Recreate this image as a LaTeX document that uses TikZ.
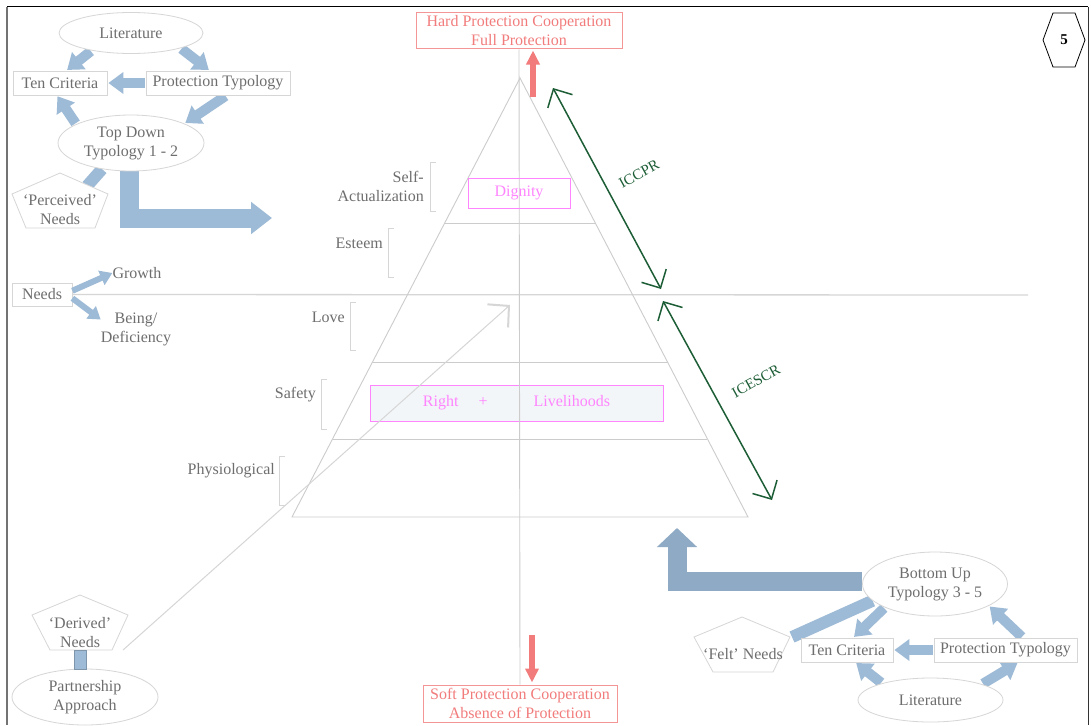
\documentclass[tikz,border=0pt]{standalone}
\usepackage{fontspec}
\setmainfont{Liberation Serif}
\usetikzlibrary{arrows.meta,shapes.geometric,calc,backgrounds}
\definecolor{txt}{HTML}{6E6E6E}
\definecolor{bord}{HTML}{D6D6D6}
\definecolor{blu}{HTML}{9DBAD6}
\definecolor{bludk}{HTML}{8FAAC4}
\definecolor{sal}{HTML}{F27C7C}
\definecolor{mag}{HTML}{FF85FF}
\definecolor{grn}{HTML}{1D5E37}
\definecolor{pyr}{HTML}{CCCCCC}
\definecolor{rlfill}{HTML}{F3F6F9}
\begin{document}
\begin{tikzpicture}[x=1pt,y=-1pt,
  every node/.style={font=\fontsize{16}{19}\selectfont,text=txt,align=center},
  ell/.style 2 args={ellipse,draw=bord,fill=white,line width=0.8pt,minimum width=#1,minimum height=#2,inner sep=0pt},
  rbox/.style 2 args={rectangle,draw=bord,fill=white,line width=0.8pt,minimum width=#1,minimum height=#2,inner sep=0pt},
  poly/.style={draw=bord,fill=white,line width=0.8pt},
  barrow/.style={draw=blu,line width=10pt,-{Triangle[length=15pt,width=21pt]},shorten >=1pt,shorten <=1pt},
  sarrow/.style={draw=blu,line width=6pt,-{Triangle[length=12pt,width=15pt]}},
  bbar/.style={draw=blu,line width=12pt},
  bigarrow/.style={line width=19pt,line join=miter},
  redarrow/.style={draw=sal,line width=6pt,-{Triangle[length=14pt,width=13pt]}},
  grnarrow/.style={draw=grn,line width=1.5pt,{Straight Barb[length=14pt,width=28pt]}-{Straight Barb[length=14pt,width=28pt]}},
  pyrline/.style={draw=pyr,line width=0.9pt},
  brk/.style={draw=bord,line width=0.9pt},
  lbl/.style={anchor=east,align=right,inner sep=0pt},
  redbox/.style 2 args={draw=sal!80,line width=1pt,text=sal,fill=white,minimum width=#1,minimum height=#2,inner sep=0pt},
  magbox/.style 2 args={draw=mag,line width=1pt,text=mag,minimum width=#1,minimum height=#2,inner sep=0pt},
]
\useasboundingbox (0,0) rectangle (1091,725);
\begin{scope}[on background layer]
\fill[white] (0,0) rectangle (1091,725);
\end{scope}
% frame
\draw[black,line width=1pt] (7,7) -- (1088,7);
\draw[black!80,line width=1pt] (1088,7) -- (1088,725);
\draw[black!55,line width=2.5pt] (7,7) -- (7,725);

% ===== top-left cluster =====
\node[ell={144}{41}] (lit1) at (131,33) {Literature};
\node[rbox={94}{24}] (ten1) at (60,83) {Ten Criteria};
\node[rbox={144}{24}] (pt1) at (218,83) {Protection Typology};
\node[ell={146}{56}] (td) at (131,143) {Top Down\\Typology 1 - 2};
\draw[poly] (60,173) -- (108,194) -- (95,228) -- (26,228) -- (12,194) -- cycle;
\node (pn) at (60,210) {`Perceived'\\Needs};
\coordinate (pnc) at (87,186);
\coordinate (tdtip) at (272,218);
\begin{scope}[on background layer]
\draw[barrow] (lit1.204) -- (ten1.63);
\draw[barrow] (lit1.343) -- (pt1.124);
\draw[barrow] (pt1.west) -- (ten1.east);
\draw[barrow] (pt1.304) -- (td.20);
\draw[barrow] (td.161) -- (ten1.256);
\draw[bbar] (td.222) -- (pnc);
\draw[bigarrow,draw=blu,-{Triangle[length=21pt,width=31pt]}] ([xshift=-2pt]td.south) |- (tdtip);
\end{scope}

% ===== needs =====
\node[rbox={60}{23}] (needs) at (42,294.5) {Needs};
\node[inner sep=0pt] (growth) at (137,273) {Growth};
\node[inner sep=0pt] (being) at (136,329) {Being/\\Deficiency};

% long horizontal line
\coordinate (hend) at (1028,295);
\draw[draw=bord,line width=1.3pt] (needs.east) -- (hend);
\draw[sarrow] (needs.7) -- (growth.west);
\draw[sarrow] (needs.-7) -- (being.165);

% ===== pyramid =====
\coordinate (apex) at (520,78);
\coordinate (bl) at (292,517);
\coordinate (br) at (748,517);
\node[redbox={206}{36}] (hp) at (519,31) {Hard Protection Cooperation\\Full Protection};
\node[redbox={194}{37}] (sp) at (520,703.5) {Soft Protection Cooperation\\Absence of Protection};
\draw[pyrline] (apex) -- (bl) -- (br) -- cycle;
\draw[pyrline] ($(apex)!0.3303!(bl)$) -- ($(apex)!0.3303!(br)$);
\draw[pyrline] ($(apex)!0.6469!(bl)$) -- ($(apex)!0.6469!(br)$);
\draw[pyrline] ($(apex)!0.8223!(bl)$) -- ($(apex)!0.8223!(br)$);
\node[magbox={293}{36},fill=rlfill] (rl) at (516.5,403) {Right\hspace{20pt}+\hspace{46pt}Livelihoods};
\draw[pyrline] (hp.south) -- (sp.north);
\node[magbox={102}{30}] (dig) at (519,193) {Dignity};

% brackets and labels
\draw[brk] (436,162) -- (430,162) -- (430,211) -- (436,211);
\draw[brk] (394,228) -- (388,228) -- (388,277) -- (394,277);
\draw[brk] (356,302) -- (350,302) -- (350,350) -- (356,350);
\draw[brk] (327,379) -- (321,379) -- (321,429) -- (327,429);
\draw[brk] (285,456) -- (279,456) -- (279,505) -- (285,505);
\node[lbl] (lsa) at (424,186) {Self-\\Actualization};
\node[lbl] (les) at (383,243) {Esteem};
\node[lbl] (llo) at (345,317) {Love};
\node[lbl] (lsf) at (316,395) {Safety};
\node[lbl] (lph) at (275,471) {Physiological};

% red arrows
\coordinate (ra1) at (533,97);
\coordinate (ra2) at (532,635);
\draw[redarrow] (ra1) -- ([yshift=-1pt]ra1 |- hp.south);
\draw[redarrow] (ra2) -- ([yshift=2pt]ra2 |- sp.north);

% green arrows
\coordinate (g1a) at (553,88);
\coordinate (g1b) at (661,289);
\coordinate (g2a) at (663,301);
\coordinate (g2b) at (772,500);
\draw[grnarrow] (g1a) -- (g1b);
\draw[grnarrow] (g2a) -- (g2b);
\node[text=grn,rotate=29,font=\fontsize{15}{18}\selectfont] (iccpr) at (639,174) {ICCPR};
\node[text=grn,rotate=29,font=\fontsize{15}{18}\selectfont] (icescr) at (756,381) {ICESCR};

% hexagon
\draw[black,line width=0.8pt] (1053,13) -- (1075,13) -- (1085,40) -- (1075,67) -- (1053,67) -- (1043,40) -- cycle;
\node[text=black,font=\bfseries\fontsize{15}{18}\selectfont] (num) at (1064,40) {5};

% ===== bottom-left =====
\draw[poly] (80,595) -- (128,615) -- (112,650) -- (50,650) -- (32,615) -- cycle;
\node (dn) at (80,633) {`Derived'\\Needs};
\coordinate (dnr) at (123,650);
\coordinate (diagtip) at (510,305);
\node[ell={146}{56}] (pa) at (85,697) {Partnership\\Approach};
\draw[draw=blu!80!black,fill=blu,line width=0.8pt] (74,650) rectangle (86,669);
\draw[draw=bord,line width=1pt,-{Straight Barb[length=15pt,width=31pt,line width=2pt]}] (dnr) -- (diagtip);

% ===== bottom-right cluster =====
\node[ell={145}{64}] (bu) at (935,584) {Bottom Up\\Typology 3 - 5};
\draw[poly] (742,617) -- (790,637) -- (773,672) -- (713,672) -- (694,637) -- cycle;
\node (fn) at (743,654) {`Felt' Needs};
\coordinate (fnc) at (792,637);
\node[rbox={92}{24}] (ten2) at (847,650) {Ten Criteria};
\node[rbox={143}{24}] (pt2) at (1005.5,650) {Protection Typology};
\node[ell={145}{44}] (lit2) at (930.5,700) {Literature};
\coordinate (butip) at (677,528);
\begin{scope}[on background layer]
\draw[bigarrow,draw=bludk,-{Triangle[length=19pt,width=39pt]}] ([yshift=3pt]bu.west) -| (butip);
\draw[bbar] (bu.195) -- (fnc);
\draw[barrow] (bu.205) -- (ten2.63);
\draw[barrow] (pt2.west) -- (ten2.east);
\draw[barrow] (pt2.36) -- (bu.338);
\draw[barrow] (lit2.161) -- (ten2.304);
\draw[barrow] (lit2.17) -- (pt2.316);
\end{scope}
\end{tikzpicture}
\end{document}
